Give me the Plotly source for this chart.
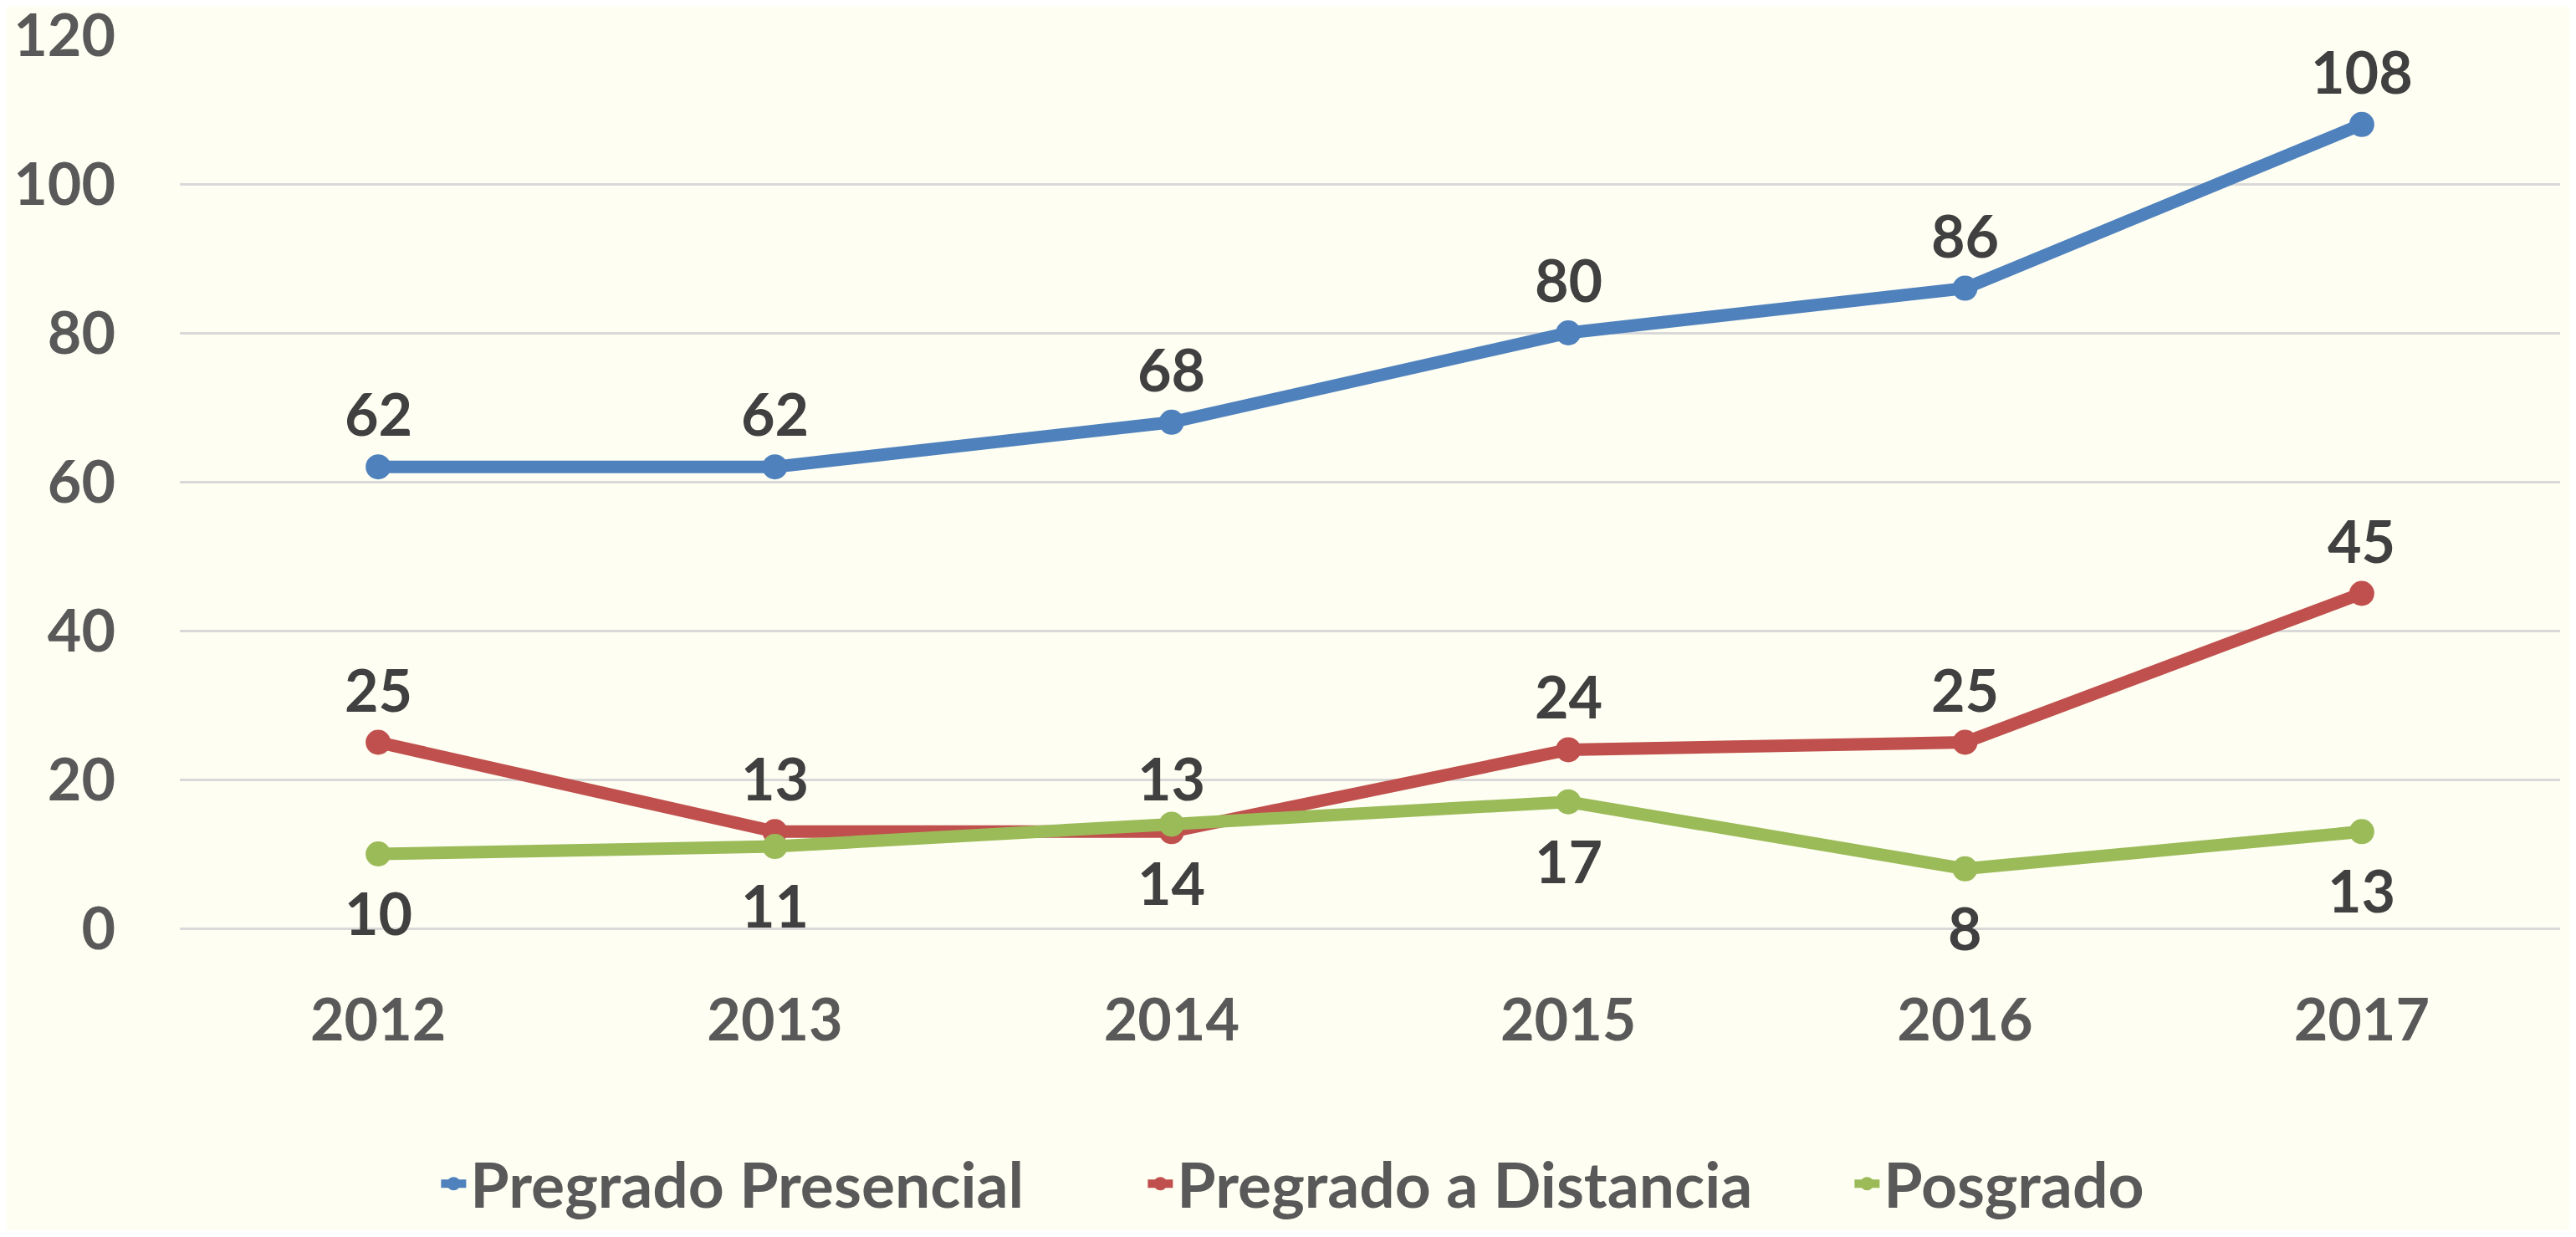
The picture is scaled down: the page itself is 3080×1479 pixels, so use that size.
import plotly.graph_objects as go

# datos
years = ["2012", "2013", "2014", "2015", "2016", "2017"]
presencial = [62, 62, 68, 80, 86, 108]
distancia = [25, 13, 13, 24, 25, 45]
posgrado = [10, 11, 14, 17, 8, 13]

series = [
    ("Pregrado Presencial", presencial, "#4F81BD", 64),
    ("Pregrado a Distancia", distancia, "#C0504D", 64),
    ("Posgrado", posgrado, "#9BBB59", -70),
]

fnt = "Lato"
fig = go.Figure()
for name, vals, color, shift in series:
    fig.add_trace(go.Scatter(x=years, y=vals, name=name, mode="lines+markers",
                             line=dict(color=color, width=15),
                             marker=dict(color=color, size=30)))
    # etiquetas de datos (x como indice de categoria)
    for i, v in enumerate(vals):
        fig.add_annotation(x=i, y=v, xref="x", yref="y", text="<b>%d</b>" % v,
                           showarrow=False, yshift=shift,
                           font=dict(family=fnt, size=70, color="#404040"))

fig.update_layout(
    width=3064, height=1463,
    paper_bgcolor="#FEFEF2", plot_bgcolor="#FEFEF2",
    margin=dict(l=207, r=11, t=34, b=361, autoexpand=False),
    font=dict(family=fnt, size=70, color="#595959"),
    showlegend=True,
    legend=dict(orientation="h", x=0.108, xanchor="left", y=-0.338, yanchor="bottom",
                font=dict(family=fnt, size=75, color="#595959", weight="bold"),
                entrywidth=800, entrywidthmode="pixels", borderwidth=0,
                bgcolor="rgba(0,0,0,0)"),
)
fig.update_xaxes(type="category", range=[-0.5, 5.5], showgrid=False, showline=False,
                 ticks="outside", ticklen=49, tickcolor="rgba(0,0,0,0)",
                 tickfont=dict(family=fnt, size=70, color="#595959", weight="bold"))
fig.update_yaxes(range=[0, 120], dtick=20, showgrid=True, gridcolor="#D9D9D9", gridwidth=3,
                 zeroline=True, zerolinecolor="#D9D9D9", zerolinewidth=3, showline=False,
                 ticks="outside", ticklen=62, tickcolor="rgba(0,0,0,0)",
                 ticklabeloverflow="allow",
                 tickfont=dict(family=fnt, size=70, color="#595959", weight="bold"))

fig.write_html("out.html")
